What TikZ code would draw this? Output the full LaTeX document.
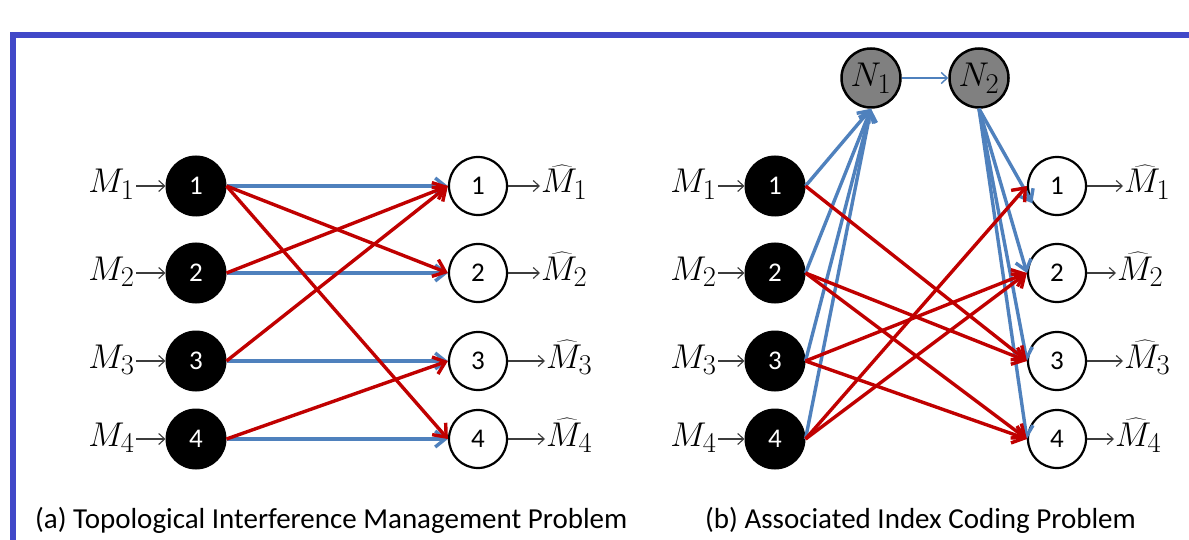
\RequirePackage{fix-cm}
\documentclass[tikz,border=0pt]{standalone}
\usepackage{fontspec}
\setmainfont{Carlito}
\usetikzlibrary{arrows.meta}
\definecolor{framecol}{RGB}{65,72,200}
\definecolor{edgeblue}{RGB}{79,129,189}
\definecolor{edgered}{RGB}{192,0,0}
\definecolor{ngray}{RGB}{128,128,128}
\definecolor{thinarr}{RGB}{60,60,60}
\newcommand{\bigmath}[1]{\scalebox{1.38}{$#1$}}
\begin{document}
\begin{tikzpicture}[x=1pt,y=-1pt,
  txnode/.style={circle,fill=black,draw=black,line width=1pt,minimum size=60pt,inner sep=0pt,text=white,font=\fontsize{27}{27}\selectfont},
  rxnode/.style={circle,fill=white,draw=black,line width=2.2pt,minimum size=58pt,inner sep=0pt,font=\fontsize{27}{27}\selectfont},
  relnode/.style={circle,fill=ngray,draw=black,line width=2.5pt,minimum size=59pt,inner sep=0pt,font=\fontsize{24.88}{26}\selectfont},
  mlab/.style={inner sep=1pt,font=\fontsize{24.88}{26}\selectfont},
  capt/.style={anchor=base west,inner sep=0pt,font=\fontsize{29}{29}\selectfont},
  bluearr/.style={draw=edgeblue,line width=3.4pt,-{Straight Barb[length=10pt,width=16pt]}},
  redarr/.style={draw=edgered,line width=3.4pt,-{Straight Barb[length=11pt,width=18pt]}},
  iarr/.style={draw=thinarr,line width=1.1pt,-{Straight Barb[length=6pt,width=11pt]}},
  linkarr/.style={draw=edgeblue,line width=1.4pt,-{Straight Barb[length=6pt,width=11pt]}}
]
\useasboundingbox (0,0) rectangle (1189,540);
\fill[white] (0,0) rectangle (1189,540);
\draw[framecol,line width=6pt,line join=miter] (13,541) -- (13,35) -- (1190,35);

% ---------- nodes ----------
\foreach \i/\y in {1/186,2/273,3/361,4/439}{
  \node[txnode] (a\i) at (196,\y) {\i};
  \node[rxnode] (b\i) at (478,\y) {\i};
  \node[mlab,anchor=base east] (am\i) at (136,\y+7) {\bigmath{M_{\i}}};
  \draw[iarr] (am\i.east |- a\i.west) -- (a\i.west);
  \node[txnode] (c\i) at (775,\y) {\i};
  \node[rxnode] (d\i) at (1057,\y) {\i};
  \node[mlab,anchor=base east] (cm\i) at (718,\y+7) {\bigmath{M_{\i}}};
  \draw[iarr] (cm\i.east |- c\i.west) -- (c\i.west);
}
% ---------- (a) ----------
\node[mlab,anchor=base west] (bm1) at (540,193) {\bigmath{\widehat{M}_1}};
\node[mlab,anchor=base west] (bm2) at (540,280) {\bigmath{\widehat{M}_2}};
\node[mlab,anchor=base west] (bm3) at (545,368) {\bigmath{\widehat{M}_3}};
\node[mlab,anchor=base west] (bm4) at (545,446) {\bigmath{\widehat{M}_4}};
\foreach \i in {1,...,4}{
  \draw[iarr] (b\i.east) -- (bm\i.west |- b\i.east);
  \draw[bluearr] (a\i.east) -- (b\i.west);
}
\draw[redarr] (a1.east) -- (b2.west);
\draw[redarr] (a1.east) -- (b4.west);
\draw[redarr] (a2.east) -- (b1.west);
\draw[redarr] (a3.east) -- (b1.west);
\draw[redarr] (a4.east) -- (b3.west);

% ---------- (b) ----------
\node[relnode] (n1) at (871,78) {\bigmath{N_1}};
\node[relnode] (n2) at (979,78) {\bigmath{N_2}};
\draw[linkarr] (n1.east) -- (n2.west);

\node[mlab,anchor=base west] (dm1) at (1123,193) {\bigmath{\widehat{M}_1}};
\node[mlab,anchor=base west] (dm2) at (1116,280) {\bigmath{\widehat{M}_2}};
\node[mlab,anchor=base west] (dm3) at (1123,368) {\bigmath{\widehat{M}_3}};
\node[mlab,anchor=base west] (dm4) at (1114,446) {\bigmath{\widehat{M}_4}};
\foreach \i in {1,...,4}{
  \draw[iarr] (d\i.east) -- (dm\i.west |- d\i.east);
  \draw[bluearr] (c\i.east) -- (n1.south);
}
\draw[bluearr] (n2.south) -- (d1.215);
\draw[bluearr] (n2.south) -- (d2.west);
\draw[bluearr] (n2.south) -- (d3.west);
\draw[bluearr] (n2.south) -- (d4.west);

\draw[redarr] (c1.east) -- (d3.west);
\draw[redarr] (c2.east) -- (d3.west);
\draw[redarr] (c2.east) -- (d4.west);
\draw[redarr] (c3.east) -- (d2.west);
\draw[redarr] (c3.east) -- (d4.west);
\draw[redarr] (c4.east) -- (d1.west);
\draw[redarr] (c4.east) -- (d2.west);

% ---------- captions ----------
\node[capt] (capa) at (35,528) {(a) Topological Interference Management Problem};
\node[capt] (capb) at (705,528) {(b) Associated Index Coding Problem};
\end{tikzpicture}
\end{document}
